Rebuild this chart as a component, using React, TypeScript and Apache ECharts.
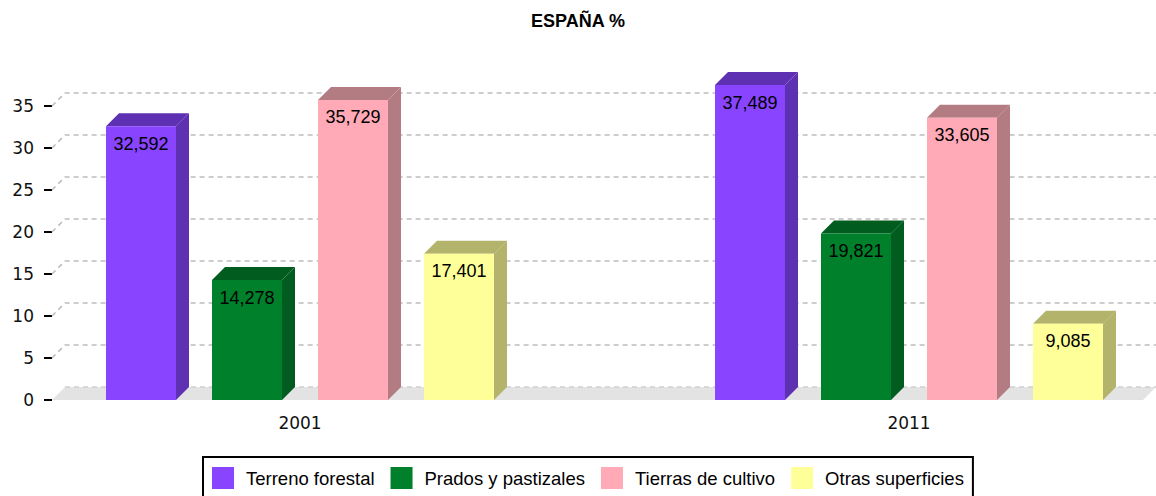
import React, { useEffect, useRef } from 'react';
import * as echarts from 'echarts';

const years = ['2001', '2011'];
const seriesNames = ['Terreno forestal', 'Prados y pastizales', 'Tierras de cultivo', 'Otras superficies'];
const terrenoForestal = [32.592, 37.489];
const pradosPastizales = [14.278, 19.821];
const tierrasCultivo = [35.729, 33.605];
const otrasSuperficies = [17.401, 9.085];
const seriesValues = [terrenoForestal, pradosPastizales, tierrasCultivo, otrasSuperficies];
const yTicks = [0, 5, 10, 15, 20, 25, 30, 35];

const frontColors = ['#8844ff', '#00802b', '#ffaab6', '#ffff99'];
const sideColors = ['#5e30b2', '#005c1f', '#b37b82', '#b3b36b'];

const DX = 13;
const DY = 13;
const BAR_W = 70;
const BAR_STEP = 106;

const GRID_LEFT = 52;
const GRID_RIGHT_EDGE = 1143;
const CAT0_X = 300;
const CAT1_X = 909;
const perUnit = CAT1_X - CAT0_X;
const xMin = -(CAT0_X - GRID_LEFT) / perUnit;
const xMax = (GRID_RIGHT_EDGE - CAT0_X) / perUnit;

const fmt = (v: number) => v.toFixed(3).replace('.', ',');

export default function App() {
  const ref = useRef<HTMLDivElement>(null);
  useEffect(() => {
    if (!ref.current) return;
    const chart = echarts.init(ref.current, undefined, { renderer: 'svg' });

    const background: any = {
      type: 'custom',
      name: '__bg',
      z: 1,
      silent: true,
      clip: false,
      data: yTicks.map((t) => [0, t]),
      renderItem: (params: any, api: any) => {
        const cs = params.coordSys;
        const t = api.value(1);
        const y = api.coord([0, t])[1];
        const gx = cs.x;
        const gr = cs.x + cs.width;
        const dash = { stroke: '#bdbdbd', lineWidth: 1.5, lineDash: [5, 4], fill: null };
        if (t === 0) {
          return {
            type: 'group',
            children: [
              {
                type: 'polygon',
                shape: { points: [[gx, y], [gx + DX, y - DY], [gr + DX, y - DY], [gr, y]] },
                style: { fill: '#e3e3e3' },
              },
              {
                type: 'polyline',
                shape: { points: [[gx + DX, y - DY], [gr + DX, y - DY]] },
                style: { ...dash, stroke: '#d0d0d0' },
              },
            ],
          };
        }
        return {
          type: 'polyline',
          shape: { points: [[gx, y], [gx + DX, y - DY], [gr + DX, y - DY]] },
          style: dash,
        };
      },
    };

    const barSeries: any[] = seriesNames.map((name, si) => ({
      type: 'custom',
      name,
      z: 2,
      clip: false,
      itemStyle: { color: frontColors[si] },
      data: years.map((_, ci) => [ci, seriesValues[si][ci]]),
      renderItem: (params: any, api: any) => {
        const cat = api.value(0);
        const v = api.value(1);
        const base = api.coord([cat, 0]);
        const top = api.coord([cat, v]);
        const cx = base[0] + (si - 1.5) * BAR_STEP;
        const x0 = cx - BAR_W / 2;
        const x1 = cx + BAR_W / 2;
        const y0 = base[1];
        const yt = top[1];
        return {
          type: 'group',
          children: [
            {
              type: 'polygon',
              shape: { points: [[x1, yt], [x1 + DX, yt - DY], [x1 + DX, y0 - DY], [x1, y0]] },
              style: { fill: sideColors[si] },
            },
            {
              type: 'polygon',
              shape: { points: [[x0, yt], [x0 + DX, yt - DY], [x1 + DX, yt - DY], [x1, yt]] },
              style: { fill: sideColors[si] },
            },
            {
              type: 'rect',
              shape: { x: x0, y: yt, width: BAR_W, height: y0 - yt },
              style: { fill: frontColors[si] },
            },
            {
              type: 'text',
              x: cx,
              y: yt + 17.5,
              style: {
                text: fmt(v),
                fill: '#000',
                font: '18px "Liberation Sans", Arial, sans-serif',
                align: 'center',
                verticalAlign: 'middle',
              },
            },
          ],
        };
      },
    }));

    chart.setOption({
      animation: false,
      backgroundColor: '#fff',
      title: {
        text: 'ESPAÑA %',
        left: 'center',
        top: 7,
        textStyle: { fontSize: 18, fontWeight: 'bold', color: '#000', fontFamily: '"Liberation Sans", Arial, sans-serif' },
      },
      legend: {
        data: seriesNames,
        left: 203,
        top: 457,
        padding: [10, 9, 10, 9],
        borderColor: '#000',
        borderWidth: 2,
        itemWidth: 22,
        itemHeight: 22,
        itemGap: 16,
        icon: 'rect',
        textStyle: { fontSize: 18.5, color: '#000', fontFamily: '"Liberation Sans", Arial, sans-serif', padding: [0, 0, 0, 7] },
      },
      grid: { left: GRID_LEFT, right: 1156 - GRID_RIGHT_EDGE, top: 106, bottom: 96, containLabel: false },
      xAxis: {
        type: 'value',
        min: xMin,
        max: xMax,
        axisLine: { show: false, onZero: false },
        axisTick: { show: false },
        splitLine: { show: false },
        axisLabel: {
          customValues: [0, 1],
          formatter: (v: number) => years[Math.round(v)],
          fontSize: 17,
          color: '#111',
          fontFamily: '"DejaVu Sans", sans-serif',
          margin: 14,
        },
      },
      yAxis: {
        type: 'value',
        min: 0,
        max: 35,
        interval: 5,
        axisLine: { show: false, onZero: false },
        axisTick: { show: true, length: 8, lineStyle: { color: '#000', width: 2 } },
        splitLine: { show: false },
        axisLabel: { fontSize: 17, color: '#111', fontFamily: '"DejaVu Sans", sans-serif', margin: 18 },
      },
      series: [background, ...barSeries],
    });
    return () => chart.dispose();
  }, []);
  return <div ref={ref} style={{ width: 1156, height: 496, position: 'absolute', left: 0, top: 0 }} />;
}
